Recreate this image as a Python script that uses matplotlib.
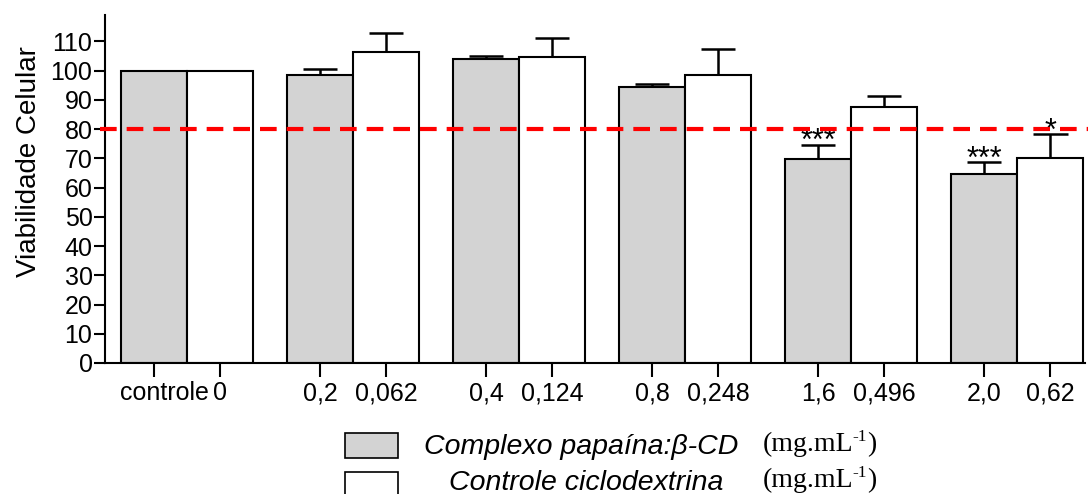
import matplotlib
matplotlib.use("Agg")
import matplotlib.pyplot as plt
import matplotlib.transforms as mtransforms
import numpy as np
from matplotlib.patches import Rectangle

# Cell viability (%) per concentration
complex_labels = ["controle", "0,2", "0,4", "0,8", "1,6", "2,0"]
cd_labels = ["0", "0,062", "0,124", "0,248", "0,496", "0,62"]
complex_mean = [100.0, 98.6, 104.1, 94.5, 69.9, 64.8]
complex_err = [0.0, 2.1, 1.0, 1.0, 4.8, 4.0]
cd_mean = [100.0, 106.5, 104.8, 98.6, 87.7, 70.2]
cd_err = [0.0, 6.2, 6.2, 8.9, 3.7, 8.0]
complex_sig = ["", "", "", "", "***", "***"]
cd_sig = ["", "", "", "", "", "*"]
threshold = 80
yticks = list(range(0, 111, 10))

plt.rcParams["font.family"] = ["Liberation Sans", "DejaVu Sans"]

fig = plt.figure(figsize=(10.88, 4.94), dpi=100)
ax = fig.add_axes([105 / 1088, 1 - 363 / 494, (1085 - 105) / 1088, (363 - 15) / 494])

step = 2.515
width = 1.0
cap_half = 0.26
n = len(complex_mean)
xg = np.arange(n) * step
xw = xg + width

ax.bar(xg, complex_mean, width=width, color="#d3d3d3", edgecolor="black", linewidth=1.5, zorder=2)
ax.bar(xw, cd_mean, width=width, color="white", edgecolor="black", linewidth=1.5, zorder=2)

# upper error bars only
for xs, m, e in ((xg, complex_mean, complex_err), (xw, cd_mean, cd_err)):
    for xi, mi, ei in zip(xs, m, e):
        if ei > 0:
            ax.vlines(xi, mi, mi + ei, color="black", lw=1.8, zorder=3)
            ax.hlines(mi + ei, xi - cap_half, xi + cap_half, color="black", lw=1.8, zorder=3)

for xs, m, e, s in ((xg, complex_mean, complex_err, complex_sig), (xw, cd_mean, cd_err, cd_sig)):
    for xi, mi, ei, si in zip(xs, m, e, s):
        if si:
            ax.text(xi, mi + ei - 2.0, si, ha="center", va="baseline", fontsize=22, zorder=4)

# 80 % viability threshold
ax.plot([-0.005, 1.01], [threshold, threshold], color="#ff0000", lw=3, ls=(0, (4, 2.4)),
        transform=ax.get_yaxis_transform(), clip_on=False, zorder=5)

ax.set_xlim(-0.74, 14.1)
ax.set_ylim(0, 119)
ax.set_yticks(yticks)
ticks = np.ravel(np.column_stack([xg, xw]))
labels = [l for pair in zip(complex_labels, cd_labels) for l in pair]
ax.set_xticks(ticks)
ax.set_xticklabels(labels, fontsize=18)
ax.tick_params(axis="y", labelsize=18, length=8, width=1.5, pad=1)
ax.tick_params(axis="x", length=10, width=1.5, pad=3)
first = ax.get_xticklabels()[0]
first.set_transform(first.get_transform() + mtransforms.ScaledTranslation(11 / 100, 0, fig.dpi_scale_trans))
for side in ("top", "right"):
    ax.spines[side].set_visible(False)
for side in ("left", "bottom"):
    ax.spines[side].set_linewidth(1.5)
ax.set_ylabel("Viabilidade Celular", fontsize=20)
ax.yaxis.set_label_coords(-0.064, 0.58)

# legend
W, H = 1088, 494
def fx(p):
    return p / W
def fy(p):
    return 1 - p / H

fig.patches.append(Rectangle((fx(345), fy(458)), fx(398) - fx(345), fy(433) - fy(458),
                             facecolor="#d3d3d3", edgecolor="black", lw=1.2, transform=fig.transFigure))
fig.patches.append(Rectangle((fx(345), fy(496)), fx(398) - fx(345), fy(472) - fy(496),
                             facecolor="white", edgecolor="black", lw=1.2, transform=fig.transFigure,
                             clip_on=False))
fig.text(fx(581), fy(447), "Complexo papaína:β-CD", ha="center", va="center",
         fontsize=20.5, style="italic")
fig.text(fx(586), fy(483), "Controle ciclodextrina", ha="center", va="center",
         fontsize=20.5, style="italic")

renderer = fig.canvas.get_renderer()
for yy in (451, 487):
    t1 = fig.text(fx(763), fy(yy), "(mg.mL", ha="left", va="baseline",
                  fontsize=20, family="Liberation Serif")
    w1 = t1.get_window_extent(renderer).width
    t2 = fig.text(fx(763 + w1 - 1.5), fy(yy - 10), "-1", ha="left", va="baseline",
                  fontsize=12.5, family="Liberation Serif")
    w2 = t2.get_window_extent(renderer).width
    fig.text(fx(763 + w1 + w2 - 1.5), fy(yy), ")", ha="left", va="baseline",
             fontsize=20, family="Liberation Serif")

fig.savefig("out.png", dpi=100)
